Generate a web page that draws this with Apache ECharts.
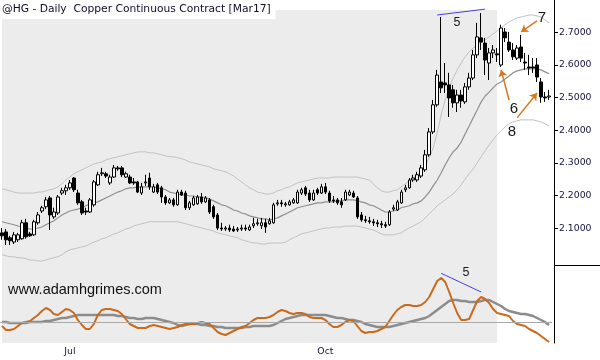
<!DOCTYPE html>
<html>
<head>
<meta charset="utf-8">
<script src="https://cdn.jsdelivr.net/npm/echarts@6/dist/echarts.min.js"></script>
<style>html,body{margin:0;padding:0;background:#fff}#c{width:600px;height:360px}</style>
</head>
<body>
<div id="c"></div>
<script>
const dates = [
'2016-06-08','2016-06-09','2016-06-10','2016-06-13','2016-06-14','2016-06-15','2016-06-16','2016-06-17','2016-06-20','2016-06-21',
'2016-06-22','2016-06-23','2016-06-24','2016-06-27','2016-06-28','2016-06-29','2016-06-30',
'2016-07-01','2016-07-05','2016-07-06','2016-07-07','2016-07-08','2016-07-11','2016-07-12','2016-07-13','2016-07-14','2016-07-15',
'2016-07-18','2016-07-19','2016-07-20','2016-07-21','2016-07-22','2016-07-25','2016-07-26','2016-07-27','2016-07-28','2016-07-29',
'2016-08-01','2016-08-02','2016-08-03','2016-08-04','2016-08-05','2016-08-08','2016-08-09','2016-08-10','2016-08-11','2016-08-12',
'2016-08-15','2016-08-16','2016-08-17','2016-08-18','2016-08-19','2016-08-22','2016-08-23','2016-08-24','2016-08-25','2016-08-26',
'2016-08-29','2016-08-30','2016-08-31',
'2016-09-01','2016-09-02','2016-09-06','2016-09-07','2016-09-08','2016-09-09','2016-09-12','2016-09-13','2016-09-14','2016-09-15',
'2016-09-16','2016-09-19','2016-09-20','2016-09-21','2016-09-22','2016-09-23','2016-09-26','2016-09-27','2016-09-28','2016-09-29','2016-09-30',
'2016-10-03','2016-10-04','2016-10-05','2016-10-06','2016-10-07','2016-10-10','2016-10-11','2016-10-12','2016-10-13','2016-10-14',
'2016-10-17','2016-10-18','2016-10-19','2016-10-20','2016-10-21','2016-10-24','2016-10-25','2016-10-26','2016-10-27','2016-10-28','2016-10-31',
'2016-11-01','2016-11-02','2016-11-03','2016-11-04','2016-11-07','2016-11-08','2016-11-09','2016-11-10','2016-11-11','2016-11-14',
'2016-11-15','2016-11-16','2016-11-17','2016-11-18','2016-11-21','2016-11-22','2016-11-23','2016-11-25','2016-11-28','2016-11-29','2016-11-30',
'2016-12-01','2016-12-02','2016-12-05','2016-12-06','2016-12-07','2016-12-08','2016-12-09','2016-12-12','2016-12-13','2016-12-14',
'2016-12-15','2016-12-16','2016-12-19','2016-12-20','2016-12-21'
];

const openP = [
2.086,2.089,2.071,2.058,2.065,2.068,2.117,2.083,2.080,2.117,
2.153,2.166,2.193,2.135,2.147,2.208,2.215,2.224,2.254,2.208,
2.181,2.153,2.150,2.172,2.233,2.267,2.267,2.239,2.257,2.285,
2.285,2.257,2.257,2.242,2.242,2.208,2.239,2.254,2.211,2.233,
2.224,2.196,2.178,2.187,2.172,2.211,2.208,2.163,2.172,2.175,
2.196,2.181,2.187,2.166,2.141,2.101,2.098,2.101,2.098,2.095,
2.098,2.101,2.095,2.108,2.114,2.108,2.117,2.114,2.117,2.175,
2.178,2.172,2.172,2.178,2.178,2.208,2.224,2.208,2.187,2.218,
2.208,2.227,2.208,2.187,2.187,2.181,2.187,2.202,2.208,2.193,
2.141,2.126,2.123,2.120,2.117,2.114,2.111,2.111,2.159,2.156,
2.178,2.218,2.224,2.248,2.248,2.260,2.279,2.325,2.395,2.478,
2.548,2.545,2.539,2.524,2.484,2.508,2.487,2.533,2.560,2.631,
2.683,2.667,2.606,2.637,2.634,2.600,2.701,2.670,2.646,2.621,
2.655,2.609,2.594,2.594,2.600,2.548,2.502,2.502
];
const closeP = [
2.077,2.065,2.062,2.080,2.080,2.117,2.074,2.077,2.120,2.141,
2.163,2.187,2.141,2.150,2.196,2.215,2.224,2.239,2.218,2.178,
2.147,2.150,2.187,2.242,2.264,2.270,2.260,2.257,2.285,2.282,
2.264,2.267,2.239,2.239,2.211,2.227,2.242,2.227,2.227,2.211,
2.196,2.178,2.187,2.172,2.211,2.202,2.163,2.178,2.193,2.196,
2.181,2.193,2.150,2.135,2.101,2.098,2.101,2.095,2.092,2.098,
2.101,2.098,2.104,2.114,2.117,2.117,2.104,2.123,2.172,2.178,
2.175,2.175,2.181,2.187,2.211,2.218,2.205,2.187,2.208,2.208,
2.227,2.211,2.184,2.184,2.178,2.172,2.211,2.211,2.196,2.135,
2.126,2.123,2.120,2.117,2.114,2.111,2.107,2.150,2.163,2.181,
2.211,2.224,2.248,2.254,2.264,2.285,2.325,2.395,2.478,2.569,
2.530,2.539,2.499,2.484,2.508,2.490,2.533,2.560,2.631,2.686,
2.670,2.615,2.637,2.646,2.631,2.713,2.683,2.646,2.625,2.652,
2.621,2.606,2.591,2.591,2.563,2.502,2.499,2.505
];
const lowP = [
2.065,2.049,2.049,2.052,2.058,2.065,2.068,2.074,2.077,2.111,
2.147,2.159,2.095,2.129,2.141,2.202,2.202,2.218,2.211,2.172,
2.141,2.141,2.147,2.166,2.230,2.260,2.254,2.233,2.254,2.276,
2.257,2.254,2.236,2.233,2.208,2.202,2.230,2.218,2.208,2.205,
2.178,2.172,2.175,2.166,2.169,2.199,2.156,2.156,2.169,2.172,
2.175,2.178,2.144,2.129,2.095,2.092,2.092,2.089,2.089,2.089,
2.092,2.092,2.092,2.101,2.108,2.098,2.086,2.111,2.114,2.169,
2.166,2.166,2.169,2.175,2.175,2.202,2.199,2.181,2.184,2.202,
2.205,2.205,2.178,2.178,2.172,2.163,2.184,2.199,2.193,2.129,
2.120,2.117,2.114,2.107,2.104,2.101,2.101,2.107,2.153,2.153,
2.175,2.211,2.221,2.242,2.242,2.254,2.273,2.319,2.389,2.472,
2.514,2.514,2.441,2.469,2.456,2.469,2.481,2.524,2.554,2.621,
2.646,2.569,2.554,2.621,2.609,2.594,2.670,2.640,2.615,2.615,
2.609,2.585,2.569,2.576,2.548,2.484,2.487,2.493
];
const highP = [
2.101,2.098,2.077,2.089,2.086,2.126,2.129,2.089,2.126,2.150,
2.169,2.196,2.199,2.163,2.202,2.224,2.233,2.248,2.257,2.218,
2.187,2.163,2.193,2.248,2.273,2.285,2.273,2.264,2.294,2.291,
2.291,2.273,2.264,2.254,2.245,2.239,2.264,2.270,2.236,2.239,
2.230,2.202,2.193,2.193,2.218,2.218,2.215,2.184,2.199,2.202,
2.208,2.199,2.193,2.172,2.147,2.117,2.107,2.111,2.107,2.104,
2.111,2.111,2.111,2.132,2.129,2.132,2.129,2.132,2.178,2.187,
2.187,2.181,2.187,2.193,2.218,2.224,2.230,2.218,2.218,2.224,
2.236,2.239,2.215,2.199,2.193,2.193,2.218,2.218,2.215,2.199,
2.150,2.138,2.135,2.129,2.126,2.123,2.120,2.156,2.172,2.187,
2.218,2.233,2.254,2.264,2.273,2.294,2.340,2.407,2.493,2.585,
2.747,2.606,2.576,2.539,2.524,2.524,2.545,2.576,2.646,2.729,
2.759,2.683,2.652,2.661,2.652,2.723,2.713,2.701,2.667,2.661,
2.692,2.637,2.631,2.621,2.621,2.560,2.517,2.524
];

const upperBand = [
2.221,2.218,2.215,2.211,2.208,2.208,2.208,2.208,2.208,2.211,
2.211,2.215,2.218,2.221,2.227,2.236,2.248,2.257,2.267,2.273,
2.279,2.285,2.291,2.297,2.300,2.303,2.309,2.313,2.316,2.319,
2.322,2.325,2.328,2.331,2.334,2.334,2.334,2.331,2.331,2.328,
2.325,2.322,2.319,2.319,2.316,2.313,2.309,2.303,2.300,2.297,
2.294,2.291,2.288,2.282,2.279,2.276,2.273,2.267,2.260,2.251,
2.242,2.233,2.224,2.218,2.211,2.208,2.205,2.205,2.208,2.215,
2.218,2.224,2.227,2.233,2.239,2.242,2.245,2.248,2.251,2.254,
2.254,2.254,2.254,2.257,2.257,2.257,2.257,2.257,2.257,2.257,
2.254,2.251,2.248,2.236,2.224,2.215,2.211,2.211,2.215,2.218,
2.227,2.236,2.245,2.254,2.264,2.276,2.291,2.316,2.346,2.392,
2.447,2.493,2.530,2.560,2.585,2.606,2.625,2.640,2.652,2.661,
2.670,2.677,2.686,2.695,2.704,2.713,2.723,2.732,2.738,2.744,
2.747,2.750,2.753,2.753,2.750,2.747,2.738,2.729
];
const midBand = [
2.120,2.117,2.114,2.111,2.107,2.104,2.101,2.098,2.098,2.101,
2.104,2.111,2.117,2.123,2.132,2.141,2.147,2.153,2.156,2.159,
2.163,2.169,2.175,2.178,2.181,2.187,2.193,2.199,2.205,2.211,
2.215,2.221,2.224,2.224,2.227,2.227,2.227,2.227,2.227,2.224,
2.221,2.218,2.211,2.208,2.205,2.202,2.202,2.199,2.199,2.196,
2.196,2.193,2.190,2.184,2.178,2.172,2.169,2.163,2.156,2.153,
2.147,2.144,2.138,2.135,2.132,2.129,2.129,2.126,2.129,2.132,
2.138,2.144,2.150,2.156,2.163,2.166,2.169,2.172,2.175,2.178,
2.178,2.181,2.181,2.181,2.184,2.184,2.187,2.187,2.187,2.184,
2.181,2.178,2.172,2.169,2.163,2.156,2.150,2.150,2.153,2.156,
2.163,2.166,2.169,2.175,2.178,2.184,2.196,2.211,2.230,2.248,
2.270,2.294,2.316,2.334,2.346,2.364,2.389,2.413,2.438,2.462,
2.487,2.505,2.517,2.530,2.542,2.548,2.557,2.566,2.576,2.582,
2.585,2.588,2.588,2.588,2.588,2.585,2.579,2.573
];
const lowerBand = [
2.019,2.016,2.013,2.013,2.010,2.010,2.007,2.003,2.003,2.000,
2.000,2.003,2.007,2.010,2.013,2.019,2.028,2.034,2.037,2.040,
2.043,2.046,2.052,2.058,2.062,2.068,2.071,2.077,2.083,2.086,
2.092,2.098,2.101,2.107,2.111,2.114,2.117,2.120,2.120,2.120,
2.120,2.120,2.120,2.120,2.120,2.117,2.114,2.111,2.107,2.104,
2.101,2.098,2.095,2.092,2.086,2.083,2.080,2.077,2.074,2.071,
2.065,2.062,2.058,2.055,2.055,2.052,2.052,2.055,2.055,2.055,
2.055,2.058,2.065,2.071,2.077,2.083,2.086,2.089,2.092,2.095,
2.098,2.101,2.101,2.104,2.104,2.104,2.107,2.107,2.107,2.107,
2.104,2.101,2.098,2.095,2.089,2.083,2.080,2.080,2.080,2.083,
2.086,2.095,2.101,2.107,2.114,2.120,2.132,2.144,2.156,2.169,
2.178,2.187,2.196,2.205,2.218,2.233,2.251,2.267,2.282,2.300,
2.319,2.337,2.355,2.371,2.386,2.398,2.410,2.420,2.426,2.429,
2.432,2.432,2.432,2.432,2.429,2.426,2.420,2.413
];

const oscLine = [
-0.4,-0.8,-0.8,-0.7,-0.4,-0.1,0.0,0.1,0.4,0.7,
1.1,1.4,1.2,0.8,0.7,1.0,1.3,1.2,0.9,0.2,
-0.3,-0.7,-0.7,-0.2,0.7,1.2,1.3,1.3,1.2,1.1,
0.8,0.3,-0.2,-0.4,-0.6,-0.6,-0.6,-0.4,-0.3,-0.4,
-0.5,-0.6,-0.7,-0.6,-0.5,-0.3,-0.2,-0.2,-0.2,-0.1,
0.0,-0.1,-0.2,-0.6,-1.0,-1.2,-1.3,-1.1,-0.9,-0.7,
-0.5,-0.4,-0.1,0.2,0.4,0.4,0.4,0.5,0.7,1.0,
1.2,1.1,0.9,0.8,0.9,0.9,0.8,0.5,0.4,0.4,
0.4,0.2,-0.2,-0.5,-0.5,-0.3,0.0,0.2,0.1,-0.4,
-0.9,-1.1,-1.0,-1.0,-0.9,-0.7,-0.5,0.1,0.7,1.2,
1.5,1.7,1.7,1.6,1.6,1.7,2.0,2.5,3.3,4.1,
4.4,4.0,3.0,1.9,0.9,0.2,0.2,0.3,1.2,2.1,
2.5,2.3,1.9,1.3,0.9,0.8,0.7,0.6,0.1,-0.2,
-0.3,-0.4,-0.7,-0.9,-1.1,-1.4,-1.7,-2.0
];
const oscAvg = [
0.0,0.0,-0.1,-0.1,-0.1,-0.1,-0.1,0.0,0.0,0.0,
0.0,0.1,0.1,0.2,0.3,0.4,0.4,0.5,0.6,0.7,
0.7,0.7,0.7,0.7,0.7,0.7,0.7,0.7,0.7,0.6,
0.6,0.5,0.4,0.4,0.3,0.3,0.4,0.4,0.4,0.3,
0.2,0.1,0.0,-0.1,-0.3,-0.4,-0.3,-0.2,-0.2,-0.2,
-0.3,-0.3,-0.4,-0.4,-0.5,-0.5,-0.6,-0.6,-0.6,-0.6,
-0.6,-0.5,-0.5,-0.4,-0.4,-0.4,-0.4,-0.4,-0.3,-0.1,
0.1,0.3,0.4,0.5,0.6,0.7,0.7,0.7,0.7,0.7,
0.7,0.7,0.6,0.5,0.4,0.4,0.3,0.2,0.2,0.1,
0.0,-0.2,-0.3,-0.4,-0.5,-0.5,-0.5,-0.5,-0.4,-0.3,
-0.2,-0.1,0.0,0.1,0.2,0.3,0.4,0.6,0.9,1.2,
1.5,1.8,2.1,2.2,2.2,2.1,2.1,2.0,2.0,2.0,
2.1,2.2,2.2,2.0,1.8,1.6,1.3,1.1,1.0,0.9,
0.8,0.8,0.7,0.6,0.4,0.2,0.0,-0.3
];

const priceTicks = [2.1, 2.2, 2.3, 2.4, 2.5, 2.6, 2.7];
const monthNames = ['Jan','Feb','Mar','Apr','May','Jun','Jul','Aug','Sep','Oct','Nov','Dec'];
const labelledMonths = ['07', '10'];
// shaded region: from the left edge through the first bars of December (category index space)
const shadeStartIdx = -0.5;
const shadeEndIdx = 123.9;

const isMonthStart = (i) => i > 0 && dates[i].slice(5, 7) !== dates[i - 1].slice(5, 7);
const candles = dates.map((d, i) => [openP[i], closeP[i], lowP[i], highP[i]]);

const txtFont = 'DejaVu Sans';
const navy = '#15153f';
const orange = '#d9771f';
const blue = '#4a3de0';
const shade = '#ececec';

const chart = echarts.init(document.getElementById('c'), null, {renderer: 'canvas'});
chart.setOption({
  animation: false,
  backgroundColor: '#fff',
  title: {
    text: '@HG - Daily  Copper Continuous Contract [Mar17]',
    left: 0, top: 0,
    padding: [3, 5, 3, 2],
    backgroundColor: '#fff',
    textStyle: {fontFamily: txtFont, fontSize: 10.7, fontWeight: 'normal', color: '#0e0e2a', lineHeight: 13}
  },
  grid: [
    {left: -1, width: 552, top: 0, height: 265},
    {left: -1, width: 552, top: 265, height: 78}
  ],
  xAxis: [
    {type: 'category', gridIndex: 0, data: dates, show: false, boundaryGap: true},
    {
      type: 'category', gridIndex: 1, data: dates, boundaryGap: true,
      axisLine: {lineStyle: {color: '#000', width: 1}},
      axisTick: {interval: (i) => isMonthStart(i), alignWithLabel: true, length: 3, lineStyle: {color: '#000'}},
      axisLabel: {
        interval: (i) => isMonthStart(i) && labelledMonths.includes(dates[i].slice(5, 7)),
        formatter: (v) => monthNames[parseInt(v.slice(5, 7), 10) - 1],
        fontFamily: txtFont, fontSize: 9.3, color: navy, margin: 4
      },
      splitLine: {show: false}
    }
  ],
  yAxis: [
    {
      type: 'value', gridIndex: 0, position: 'right', offset: 3,
      min: 1.98773, max: 2.7989, scale: true,
      axisLine: {show: true, lineStyle: {color: '#000', width: 1}},
      axisTick: {show: true, customValues: priceTicks, length: 4, lineStyle: {color: '#000'}},
      axisLabel: {customValues: priceTicks, formatter: (v) => v.toFixed(4), fontFamily: txtFont, fontSize: 9.3, color: navy, margin: 5},
      splitLine: {show: false}
    },
    {
      type: 'value', gridIndex: 1, position: 'right', offset: 3,
      min: -2.1, max: 5.7,
      axisLine: {show: true, lineStyle: {color: '#000', width: 1}},
      axisTick: {show: false}, axisLabel: {show: false}, splitLine: {show: false}
    }
  ],
  series: [
    {
      type: 'candlestick', xAxisIndex: 0, yAxisIndex: 0, data: candles,
      barWidth: 3,
      itemStyle: {color: '#ffffff', color0: '#000000', borderColor: '#000000', borderColor0: '#000000', borderWidth: 1},
      markArea: {
        silent: true, itemStyle: {color: shade},
        data: [[{coord: [shadeStartIdx, 2.768]}, {coord: [shadeEndIdx, 1.98773]}]]
      },
      markLine: {
        silent: true, symbol: ['none', 'none'], label: {show: false},
        data: [
          [{coord: [109.3, 2.753], lineStyle: {color: blue, width: 1, type: 'solid'}}, {coord: [120.5, 2.771]}],
          [{coord: [134, 2.735], symbol: 'none', lineStyle: {color: orange, width: 1.5, type: 'solid'}}, {coord: [129.75, 2.701], symbol: 'arrow', symbolSize: 7}],
          [{coord: [127.25, 2.493], symbol: 'none', lineStyle: {color: orange, width: 1.5, type: 'solid'}}, {coord: [124.5, 2.585], symbol: 'arrow', symbolSize: 7}],
          [{coord: [128.75, 2.438], symbol: 'none', lineStyle: {color: orange, width: 1.5, type: 'solid'}}, {coord: [133.75, 2.514], symbol: 'arrow', symbolSize: 7}]
        ]
      }
    },
    {type: 'line', xAxisIndex: 0, yAxisIndex: 0, data: upperBand, symbol: 'none', lineStyle: {color: '#c2c2c2', width: 1}, z: 1},
    {type: 'line', xAxisIndex: 0, yAxisIndex: 0, data: midBand, symbol: 'none', lineStyle: {color: '#8f8f8f', width: 1.2}, z: 1},
    {type: 'line', xAxisIndex: 0, yAxisIndex: 0, data: lowerBand, symbol: 'none', lineStyle: {color: '#c2c2c2', width: 1}, z: 1},
    {
      type: 'line', xAxisIndex: 1, yAxisIndex: 1, data: oscAvg, symbol: 'none',
      lineStyle: {color: '#8c8c8c', width: 2.5},
      markArea: {
        silent: true, itemStyle: {color: shade},
        data: [[{coord: [shadeStartIdx, 5.7]}, {coord: [shadeEndIdx, -2.1]}]]
      },
      markLine: {
        silent: true, symbol: ['none', 'none'], label: {show: false},
        lineStyle: {color: '#a9a9a9', width: 1, type: 'solid'},
        data: [{yAxis: 0}]
      }
    },
    {
      type: 'line', xAxisIndex: 1, yAxisIndex: 1, data: oscLine, symbol: 'none',
      lineStyle: {color: '#cc6a1c', width: 2},
      markLine: {
        silent: true, symbol: ['none', 'none'], label: {show: false},
        data: [[{coord: [110.2, 4.87], lineStyle: {color: blue, width: 1, type: 'solid'}}, {coord: [120.25, 3.0]}]]
      }
    }
  ],
  graphic: [
    {type: 'line', shape: {x1: 554, y1: 265.5, x2: 600, y2: 265.5}, style: {stroke: '#000', lineWidth: 1}, z: 10},
    {type: 'text', left: 8, top: 282, style: {text: 'www.adamhgrimes.com', font: '14.5px "Liberation Sans", Arial, sans-serif', fill: '#111'}, z: 10},
    {type: 'text', x: 457, y: 22.5, style: {text: '5', font: '12.5px "Liberation Sans", Arial, sans-serif', fill: '#1a1a1a', align: 'center', verticalAlign: 'middle'}, z: 10},
    {type: 'text', x: 542, y: 17.5, style: {text: '7', font: '15px "Liberation Sans", Arial, sans-serif', fill: '#1a1a1a', align: 'center', verticalAlign: 'middle'}, z: 10},
    {type: 'text', x: 514, y: 108.5, style: {text: '6', font: '15px "Liberation Sans", Arial, sans-serif', fill: '#1a1a1a', align: 'center', verticalAlign: 'middle'}, z: 10},
    {type: 'text', x: 512, y: 132, style: {text: '8', font: '15px "Liberation Sans", Arial, sans-serif', fill: '#1a1a1a', align: 'center', verticalAlign: 'middle'}, z: 10},
    {type: 'text', x: 466, y: 272.5, style: {text: '5', font: '12.5px "Liberation Sans", Arial, sans-serif', fill: '#1a1a1a', align: 'center', verticalAlign: 'middle'}, z: 10}
  ]
});
</script>
</body>
</html>
